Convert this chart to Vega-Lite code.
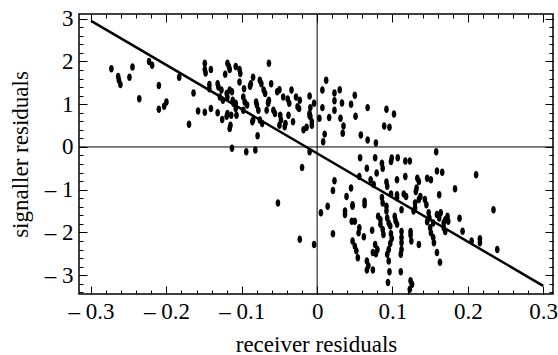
{
  "$schema": "https://vega.github.io/schema/vega-lite/v6.json",
  "width": 474,
  "height": 280,
  "autosize": {"type": "none"},
  "padding": {"left": 79, "top": 14, "right": 5, "bottom": 61},
  "background": "white",
  "config": {
    "view": {"stroke": "black", "strokeWidth": 1.5},
    "font": "Liberation Serif",
    "axis": {"domain": false, "grid": false, "tickColor": "black", "labelColor": "black", "titleColor": "black", "labelFont": "Liberation Serif", "titleFont": "Liberation Serif", "titleFontWeight": "normal", "labelFontSize": 23, "titleFontSize": 23}
  },
  "datasets": {
    "pts": [
      {"x":-0.273,"y":1.83},{"x":-0.264,"y":1.65},{"x":-0.263,"y":1.56},{"x":-0.261,"y":1.46},{"x":-0.249,"y":1.63},{"x":-0.245,"y":1.87},{"x":-0.223,"y":2.0},{"x":-0.219,"y":1.91},{"x":-0.21,"y":1.44},{"x":-0.236,"y":1.13},{"x":-0.21,"y":0.88},{"x":-0.203,"y":0.95},{"x":-0.2,"y":1.05},{"x":-0.183,"y":1.63},{"x":-0.17,"y":0.53},{"x":-0.164,"y":1.26},
      {"x":-0.149,"y":1.96},{"x":-0.149,"y":1.81},{"x":-0.148,"y":1.73},{"x":-0.141,"y":1.81},{"x":-0.119,"y":1.96},{"x":-0.117,"y":1.88},{"x":-0.116,"y":1.81},{"x":-0.108,"y":1.88},{"x":-0.103,"y":1.81},{"x":-0.102,"y":1.72},{"x":-0.103,"y":1.52},{"x":-0.122,"y":1.7},{"x":-0.085,"y":1.63},{"x":-0.064,"y":1.96},
      {"x":-0.143,"y":1.46},{"x":-0.143,"y":1.36},{"x":-0.132,"y":1.48},{"x":-0.131,"y":1.4},{"x":-0.127,"y":1.33},{"x":-0.129,"y":1.17},{"x":-0.125,"y":1.09},{"x":-0.12,"y":1.25},{"x":-0.116,"y":1.33},{"x":-0.113,"y":1.29},{"x":-0.112,"y":1.09},{"x":-0.111,"y":1.02},{"x":-0.119,"y":1.17},{"x":-0.097,"y":1.36},{"x":-0.098,"y":1.17},{"x":-0.096,"y":1.05},{"x":-0.093,"y":0.98},{"x":-0.089,"y":1.42},{"x":-0.088,"y":1.48},{"x":-0.081,"y":1.05},{"x":-0.08,"y":0.98},{"x":-0.076,"y":1.56},{"x":-0.074,"y":1.48},{"x":-0.071,"y":1.33},{"x":-0.069,"y":1.25},{"x":-0.061,"y":1.48},{"x":-0.064,"y":1.09},{"x":-0.065,"y":1.02},{"x":-0.053,"y":1.29},{"x":-0.05,"y":1.34},{"x":-0.045,"y":1.17},{"x":-0.039,"y":1.12},{"x":-0.037,"y":1.02},{"x":-0.028,"y":1.17},{"x":-0.026,"y":0.94},{"x":-0.024,"y":0.9},{"x":-0.034,"y":1.33},
      {"x":-0.158,"y":0.84},{"x":-0.149,"y":0.81},{"x":-0.141,"y":0.9},{"x":-0.132,"y":0.8},{"x":-0.126,"y":0.64},{"x":-0.12,"y":0.72},{"x":-0.119,"y":0.78},{"x":-0.114,"y":0.74},{"x":-0.116,"y":0.43},{"x":-0.115,"y":0.51},{"x":-0.108,"y":1.02},{"x":-0.108,"y":0.9},{"x":-0.107,"y":0.74},{"x":-0.098,"y":0.86},{"x":-0.086,"y":0.59},{"x":-0.085,"y":0.63},{"x":-0.078,"y":0.86},{"x":-0.076,"y":0.63},{"x":-0.073,"y":0.55},{"x":-0.079,"y":0.26},{"x":-0.067,"y":0.86},{"x":-0.065,"y":1.05},{"x":-0.058,"y":0.86},{"x":-0.056,"y":0.78},{"x":-0.049,"y":0.74},{"x":-0.048,"y":0.63},{"x":-0.05,"y":0.51},{"x":-0.042,"y":0.55},{"x":-0.043,"y":0.47},{"x":-0.038,"y":0.74},{"x":-0.032,"y":0.59},{"x":-0.018,"y":0.4},{"x":-0.014,"y":0.46},{"x":-0.01,"y":0.78},{"x":-0.009,"y":0.71},{"x":-0.007,"y":0.59},{"x":-0.004,"y":1.02},
      {"x":-0.113,"y":-0.03},{"x":-0.094,"y":-0.11},{"x":-0.082,"y":-0.07},
      {"x":-0.052,"y":-1.31},{"x":-0.02,"y":-0.48},{"x":-0.023,"y":-2.16},{"x":-0.004,"y":-2.28},
      {"x":0.012,"y":1.56},{"x":0.007,"y":1.33},{"x":0.023,"y":1.26},{"x":0.03,"y":1.34},{"x":0.05,"y":1.21},{"x":-0.01,"y":1.19},{"x":-0.023,"y":1.09},{"x":0.023,"y":1.08},{"x":0.033,"y":1.03},{"x":0.045,"y":1.0},{"x":0.007,"y":0.92},{"x":-0.009,"y":0.92},{"x":0.023,"y":0.86},{"x":0.067,"y":0.92},{"x":0.092,"y":0.88},{"x":0.102,"y":0.77},{"x":-0.01,"y":0.73},{"x":0.003,"y":0.67},{"x":0.016,"y":0.69},{"x":0.031,"y":0.67},{"x":0.051,"y":0.72},{"x":0.035,"y":0.49},{"x":0.034,"y":0.32},{"x":-0.007,"y":0.51},{"x":0.089,"y":0.49},{"x":0.096,"y":0.46},{"x":0.01,"y":0.3},{"x":0.008,"y":0.12},{"x":0.058,"y":0.28},{"x":0.067,"y":0.16},{"x":0.078,"y":0.09},
      {"x":-0.01,"y":-0.11},{"x":0.057,"y":-0.25},{"x":0.077,"y":-0.25},{"x":0.086,"y":-0.38},{"x":0.087,"y":-0.5},{"x":0.098,"y":-0.34},{"x":0.099,"y":-0.26},{"x":0.107,"y":-0.25},{"x":0.117,"y":-0.33},{"x":0.123,"y":-0.33},{"x":0.066,"y":-0.5},{"x":0.079,"y":-0.61},{"x":0.056,"y":-0.69},{"x":0.071,"y":-0.77},{"x":0.075,"y":-0.88},{"x":0.092,"y":-0.82},{"x":0.093,"y":-0.92},{"x":0.106,"y":-0.77},{"x":0.117,"y":-0.69},{"x":0.133,"y":-0.73},{"x":0.023,"y":-0.79},{"x":0.021,"y":-1.02},{"x":0.045,"y":-0.96},{"x":0.039,"y":-1.16},{"x":0.063,"y":-1.27},{"x":0.063,"y":-1.35},{"x":0.047,"y":-1.35},{"x":0.047,"y":-1.39},{"x":0.086,"y":-1.18},{"x":0.087,"y":-1.31},{"x":0.098,"y":-1.1},{"x":0.106,"y":-1.12},{"x":0.106,"y":-1.19},{"x":0.115,"y":-1.1},{"x":0.118,"y":-1.16},{"x":0.014,"y":-1.39},{"x":0.005,"y":-1.54},{"x":0.037,"y":-1.5},{"x":0.037,"y":-1.58},{"x":0.092,"y":-1.39},{"x":0.092,"y":-1.5},{"x":0.112,"y":-1.47},{"x":0.13,"y":-1.31},{"x":0.13,"y":-1.43},{"x":0.046,"y":-1.74},{"x":0.05,"y":-1.74},{"x":0.081,"y":-1.62},{"x":0.084,"y":-1.7},{"x":0.084,"y":-1.81},{"x":0.093,"y":-1.66},{"x":0.095,"y":-1.78},{"x":0.097,"y":-1.85},{"x":0.103,"y":-1.62},{"x":0.104,"y":-1.72},{"x":0.106,"y":-1.81},{"x":0.021,"y":-2.03},{"x":0.056,"y":-1.89},{"x":0.055,"y":-2.01},{"x":0.062,"y":-2.1},{"x":0.073,"y":-1.95},{"x":0.087,"y":-1.93},{"x":0.088,"y":-2.05},{"x":0.098,"y":-2.03},{"x":0.099,"y":-2.14},{"x":0.097,"y":-2.26},{"x":0.112,"y":-1.98},{"x":0.112,"y":-2.12},{"x":0.112,"y":-2.24},{"x":0.124,"y":-1.98},{"x":0.124,"y":-2.06},{"x":0.125,"y":-2.2},{"x":0.135,"y":-2.28},{"x":0.047,"y":-2.2},{"x":0.05,"y":-2.32},{"x":0.052,"y":-2.43},{"x":0.054,"y":-2.59},{"x":0.077,"y":-2.28},{"x":0.08,"y":-2.4},{"x":0.074,"y":-2.47},{"x":0.078,"y":-2.5},{"x":0.095,"y":-2.4},{"x":0.093,"y":-2.51},{"x":0.095,"y":-2.67},{"x":0.112,"y":-2.4},{"x":0.111,"y":-2.51},{"x":0.066,"y":-2.67},{"x":0.068,"y":-2.78},{"x":0.066,"y":-2.88},{"x":0.074,"y":-2.88},{"x":0.096,"y":-2.92},{"x":0.111,"y":-2.92},{"x":0.094,"y":-3.17},{"x":0.124,"y":-3.13},{"x":0.126,"y":-3.21},{"x":0.123,"y":-3.33},
      {"x":0.158,"y":-0.11},{"x":0.146,"y":-0.73},{"x":0.151,"y":-0.77},{"x":0.159,"y":-0.56},{"x":0.166,"y":-0.59},{"x":0.135,"y":-0.81},{"x":0.211,"y":-0.65},{"x":0.132,"y":-0.96},{"x":0.131,"y":-1.04},{"x":0.137,"y":-1.16},{"x":0.135,"y":-1.23},{"x":0.143,"y":-1.23},{"x":0.145,"y":-1.35},{"x":0.162,"y":-1.12},{"x":0.183,"y":-0.98},{"x":0.128,"y":-1.5},{"x":0.148,"y":-1.54},{"x":0.149,"y":-1.66},{"x":0.146,"y":-1.75},{"x":0.154,"y":-1.78},{"x":0.159,"y":-1.58},{"x":0.162,"y":-1.66},{"x":0.164,"y":-1.54},{"x":0.168,"y":-1.78},{"x":0.17,"y":-1.7},{"x":0.173,"y":-1.62},{"x":0.174,"y":-1.74},{"x":0.168,"y":-1.89},{"x":0.15,"y":-1.89},{"x":0.151,"y":-2.01},{"x":0.154,"y":-2.12},{"x":0.155,"y":-2.24},{"x":0.17,"y":-1.98},{"x":0.189,"y":-1.67},{"x":0.193,"y":-1.97},{"x":0.234,"y":-1.47},{"x":0.205,"y":-2.2},{"x":0.216,"y":-2.15},{"x":0.216,"y":-2.24},{"x":0.239,"y":-2.4},{"x":0.159,"y":-2.47},{"x":0.163,"y":-2.7}
    ],
    "fit": [{"x": -0.3, "y": 2.95}, {"x": 0.3, "y": -3.25}],
    "zero": [{"v": 0}]
  },
  "resolve": {"axis": {"x": "independent", "y": "independent"}},
  "layer": [
    {
      "data": {"name": "zero"},
      "mark": {"type": "rule", "color": "black", "strokeWidth": 1},
      "encoding": {"y": {"field": "v", "type": "quantitative", "scale": {"domain": [-3.44, 3.11], "nice": false, "zero": false}, "axis": null}}
    },
    {
      "data": {"name": "zero"},
      "mark": {"type": "rule", "color": "black", "strokeWidth": 1},
      "encoding": {"x": {"field": "v", "type": "quantitative", "scale": {"domain": [-0.316, 0.313], "nice": false, "zero": false}, "axis": null}}
    },
    {
      "data": {"name": "pts"},
      "mark": {"type": "point", "filled": true, "color": "black", "opacity": 1, "size": 56, "shape": "M0,-1A0.62,1,0,1,1,0,1A0.62,1,0,1,1,0,-1Z"},
      "encoding": {
        "x": {"field": "x", "type": "quantitative", "scale": {"domain": [-0.316, 0.313], "nice": false, "zero": false},
              "axis": {"orient": "bottom", "values": [-0.3, -0.2, -0.1, 0, 0.1, 0.2, 0.3], "tickSize": -8, "labelPadding": 14, "title": "receiver residuals", "titlePadding": 10,
                       "labelExpr": "datum.value == 0 ? '0' : (datum.value < 0 ? '\u2013 ' : '') + format(abs(datum.value), '.1f')"}},
        "y": {"field": "y", "type": "quantitative", "scale": {"domain": [-3.44, 3.11], "nice": false, "zero": false},
              "axis": {"orient": "left", "values": [-3, -2, -1, 0, 1, 2, 3], "tickSize": -8, "labelPadding": 14, "title": "signaller residuals", "titlePadding": 12,
                       "labelExpr": "datum.value == 0 ? '0' : (datum.value < 0 ? '\u2013 ' : '') + format(abs(datum.value), 'd')"}}
      }
    },
    {
      "data": {"name": "fit"},
      "mark": {"type": "line", "color": "black", "strokeWidth": 2.5},
      "encoding": {
        "x": {"field": "x", "type": "quantitative", "axis": {"orient": "top", "values": [-0.3, -0.2, -0.1, 0, 0.1, 0.2, 0.3], "tickSize": -8, "labels": false, "title": null}},
        "y": {"field": "y", "type": "quantitative", "axis": {"orient": "right", "values": [-3, -2, -1, 0, 1, 2, 3], "tickSize": -8, "labels": false, "title": null}}
      }
    },
    {
      "data": {"name": "fit"},
      "mark": {"type": "point", "opacity": 0},
      "encoding": {
        "x": {"field": "x", "type": "quantitative", "axis": {"orient": "bottom", "values": [-0.3,-0.28,-0.26,-0.24,-0.22,-0.2,-0.18,-0.16,-0.14,-0.12,-0.1,-0.08,-0.06,-0.04,-0.02,0,0.02,0.04,0.06,0.08,0.1,0.12,0.14,0.16,0.18,0.2,0.22,0.24,0.26,0.28,0.3], "tickSize": -4, "labels": false, "title": null}},
        "y": {"field": "y", "type": "quantitative", "axis": {"orient": "left", "values": [-3.4,-3.2,-3,-2.8,-2.6,-2.4,-2.2,-2,-1.8,-1.6,-1.4,-1.2,-1,-0.8,-0.6,-0.4,-0.2,0,0.2,0.4,0.6,0.8,1,1.2,1.4,1.6,1.8,2,2.2,2.4,2.6,2.8,3], "tickSize": -4, "labels": false, "title": null}}
      }
    },
    {
      "data": {"name": "fit"},
      "mark": {"type": "point", "opacity": 0},
      "encoding": {
        "x": {"field": "x", "type": "quantitative", "axis": {"orient": "top", "values": [-0.3,-0.28,-0.26,-0.24,-0.22,-0.2,-0.18,-0.16,-0.14,-0.12,-0.1,-0.08,-0.06,-0.04,-0.02,0,0.02,0.04,0.06,0.08,0.1,0.12,0.14,0.16,0.18,0.2,0.22,0.24,0.26,0.28,0.3], "tickSize": -4, "labels": false, "title": null}},
        "y": {"field": "y", "type": "quantitative", "axis": {"orient": "right", "values": [-3.4,-3.2,-3,-2.8,-2.6,-2.4,-2.2,-2,-1.8,-1.6,-1.4,-1.2,-1,-0.8,-0.6,-0.4,-0.2,0,0.2,0.4,0.6,0.8,1,1.2,1.4,1.6,1.8,2,2.2,2.4,2.6,2.8,3], "tickSize": -4, "labels": false, "title": null}}
      }
    }
  ]
}
